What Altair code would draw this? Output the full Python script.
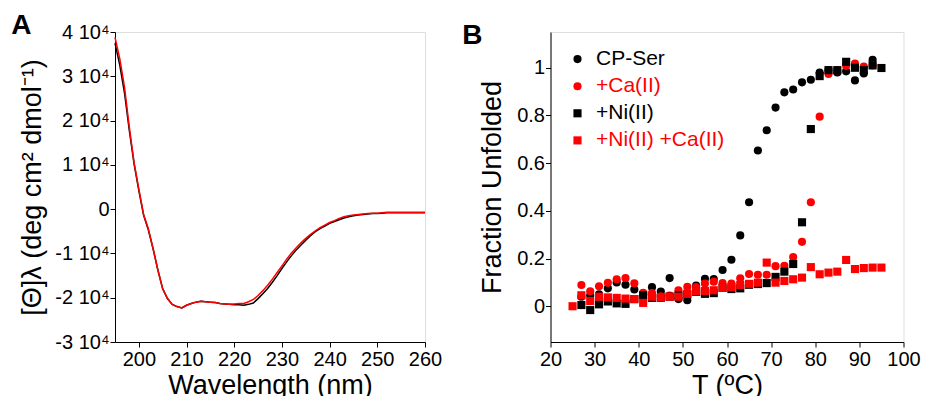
import altair as alt
import pandas as pd

FONT = "Liberation Sans"

# ---------------- Panel A: CD spectra (values in units of 10^4 deg cm2 dmol-1)
wavelength = list(range(195, 261))
cd_black = [3.75, 3.25, 2.62, 1.78, 1.02, 0.42, -0.14, -0.47, -0.90, -1.38,
            -1.80, -2.02, -2.15, -2.20, -2.23, -2.17, -2.13, -2.10, -2.08, -2.09,
            -2.10, -2.11, -2.13, -2.14, -2.15, -2.16, -2.16, -2.17, -2.15, -2.12,
            -2.02, -1.91, -1.79, -1.65, -1.50, -1.34, -1.19, -1.05, -0.92, -0.81,
            -0.70, -0.60, -0.51, -0.44, -0.38, -0.32, -0.28, -0.24, -0.20, -0.17,
            -0.15, -0.13, -0.12, -0.11, -0.10, -0.10, -0.09, -0.08, -0.08, -0.08,
            -0.08, -0.08, -0.08, -0.08, -0.08, -0.08]
cd_red = [3.88, 3.40, 2.75, 1.85, 1.05, 0.45, -0.12, -0.45, -0.90, -1.38,
          -1.80, -2.02, -2.15, -2.20, -2.23, -2.17, -2.13, -2.10, -2.08, -2.09,
          -2.10, -2.11, -2.13, -2.14, -2.15, -2.14, -2.13, -2.13, -2.09, -2.04,
          -1.95, -1.84, -1.72, -1.58, -1.43, -1.28, -1.13, -0.99, -0.87, -0.76,
          -0.66, -0.57, -0.49, -0.42, -0.36, -0.30, -0.26, -0.21, -0.17, -0.15,
          -0.13, -0.12, -0.11, -0.10, -0.09, -0.09, -0.08, -0.07, -0.07, -0.07,
          -0.07, -0.07, -0.07, -0.07, -0.07, -0.07]

# ---------------- Panel B: thermal unfolding
series_names = ["CP-Ser", "+Ca(II)", "+Ni(II)", "+Ni(II) +Ca(II)"]

t_cpser = list(range(27, 95, 2))
f_cpser = [0.04, 0.045, 0.05, 0.075, 0.10, 0.09, 0.07, 0.05, 0.08, 0.062,
           0.118, 0.03, 0.025, 0.087, 0.115, 0.114, 0.152, 0.195, 0.297, 0.436,
           0.653, 0.738, 0.833, 0.897, 0.909, 0.939, 0.95, 0.98, 0.99, 0.98,
           0.985, 0.947, 0.976, 1.033]

t_ca = list(range(27, 95, 2))
f_ca = [0.089, 0.063, 0.084, 0.098, 0.113, 0.118, 0.096, 0.056, 0.055, 0.042,
        0.045, 0.067, 0.081, 0.08, 0.095, 0.103, 0.097, 0.095, 0.117, 0.135,
        0.132, 0.132, 0.168, 0.17, 0.206, 0.27, 0.436, 0.795, 0.974, 0.99,
        1.008, 1.018, 1.005, 1.01]

t_ni = list(range(27, 97, 2))
f_ni = [0.005, -0.016, 0.008, 0.02, 0.012, 0.01, 0.03, 0.046, 0.035, 0.035,
        0.04, 0.045, 0.05, 0.06, 0.052, 0.055, 0.077, 0.072, 0.075, 0.09,
        0.093, 0.097, 0.123, 0.145, 0.177, 0.352, 0.743, 0.965, 0.99, 0.99,
        1.025, 1.0, 0.99, 1.01, 0.999]

t_nica = list(range(25, 97, 2))
f_nica = [0.0, 0.046, 0.022, 0.04, 0.037, 0.035, 0.032, 0.03, 0.014, 0.04,
          0.036, 0.04, 0.04, 0.052, 0.062, 0.064, 0.067, 0.077, 0.08, 0.089,
          0.094, 0.099, 0.183, 0.099, 0.106, 0.113, 0.12, 0.164, 0.134, 0.141,
          0.145, 0.194, 0.156, 0.16, 0.162, 0.162]

a_df = pd.DataFrame({
    "wl": wavelength * 2,
    "val": cd_black + cd_red,
    "trace": ["black"] * len(cd_black) + ["red"] * len(cd_red),
})

rows = []
for name, ts, fs in [(series_names[0], t_cpser, f_cpser),
                     (series_names[1], t_ca, f_ca),
                     (series_names[2], t_ni, f_ni),
                     (series_names[3], t_nica, f_nica)]:
    for t, f in zip(ts, fs):
        rows.append({"T": t, "F": f, "series": name})
b_df = pd.DataFrame(rows)

axis_common = dict(
    grid=False, domainColor="black", tickColor="black", tickSize=5,
    labelColor="black", titleColor="black", labelFont=FONT, titleFont=FONT,
    labelFontSize=20, titleFontSize=27, titleFontWeight="normal",
    labelFlush=False, labelOverlap=False,
)

panel_a = alt.Chart(a_df).mark_line(strokeWidth=1.5).encode(
    x=alt.X("wl:Q",
            scale=alt.Scale(domain=[195, 260], nice=False, zero=False),
            axis=alt.Axis(values=[200, 210, 220, 230, 240, 250, 260],
                          title="Wavelength (nm)", labelPadding=2,
                          titlePadding=3, **axis_common)),
    y=alt.Y("val:Q",
            scale=alt.Scale(domain=[-3, 4], nice=False),
            axis=alt.Axis(values=[-3, -2, -1, 0, 1, 2, 3, 4],
                          labelExpr="datum.value == 0 ? '0' : datum.value + ' 10⁴'",
                          title="[Θ]λ  (deg cm² dmol⁻¹)", labelPadding=1,
                          titlePadding=8, **axis_common)),
    color=alt.Color("trace:N",
                    scale=alt.Scale(domain=["black", "red"], range=["#000000", "#ff0000"]),
                    legend=None),
).properties(
    width=310, height=310,
    title=alt.TitleParams("A", anchor="start", frame="bounds", fontSize=28,
                          fontWeight="bold", font=FONT, color="black",
                          offset=-18, dx=-7.5),
)

legend = alt.Legend(
    title=None, orient="none", legendX=16.5, legendY=16.6, padding=0,
    labelFont=FONT, labelFontSize=21, labelOffset=8, rowPadding=5.1,
    symbolStrokeWidth=0, symbolOpacity=1,
    labelColor={"expr": "(datum.value == '+Ca(II)' || datum.value == '+Ni(II) +Ca(II)') ? '#ff0000' : '#000000'"},
)

panel_b = alt.Chart(b_df).mark_point(filled=True, opacity=1, strokeWidth=0).encode(
    x=alt.X("T:Q",
            scale=alt.Scale(domain=[20, 100], nice=False, zero=False),
            axis=alt.Axis(values=[20, 30, 40, 50, 60, 70, 80, 90, 100],
                          title="T (ºC)", labelPadding=2, titlePadding=3,
                          **axis_common)),
    y=alt.Y("F:Q",
            scale=alt.Scale(domain=[-0.15, 1.15], nice=False, zero=False),
            axis=alt.Axis(values=[0, 0.2, 0.4, 0.6, 0.8, 1], format="~g",
                          title="Fraction Unfolded", labelPadding=1,
                          titlePadding=10, **axis_common)),
    color=alt.Color("series:N",
                    scale=alt.Scale(domain=series_names,
                                    range=["#000000", "#ff0000", "#000000", "#ff0000"]),
                    legend=legend),
    shape=alt.Shape("series:N",
                    scale=alt.Scale(domain=series_names,
                                    range=["circle", "circle", "square", "square"]),
                    legend=legend),
    size=alt.Size("series:N",
                  scale=alt.Scale(domain=series_names, range=[66, 66, 88, 88]),
                  legend=legend),
).properties(
    width=353, height=310,
    title=alt.TitleParams("B", anchor="start", frame="bounds", fontSize=28,
                          fontWeight="bold", font=FONT, color="black",
                          offset=-18, dx=-16.4),
)

chart = alt.hconcat(panel_a, panel_b, spacing=18.5).resolve_scale(
    color="independent", shape="independent", size="independent"
).resolve_legend(
    color="independent", shape="independent", size="independent"
).configure_view(
    stroke="#555555", strokeWidth=1
).configure(background="white", font=FONT).properties(
    padding={"left": 2, "top": 3, "right": 0, "bottom": 5}
)

chart.save("out.html", embed_options={"renderer": "svg", "actions": False})
